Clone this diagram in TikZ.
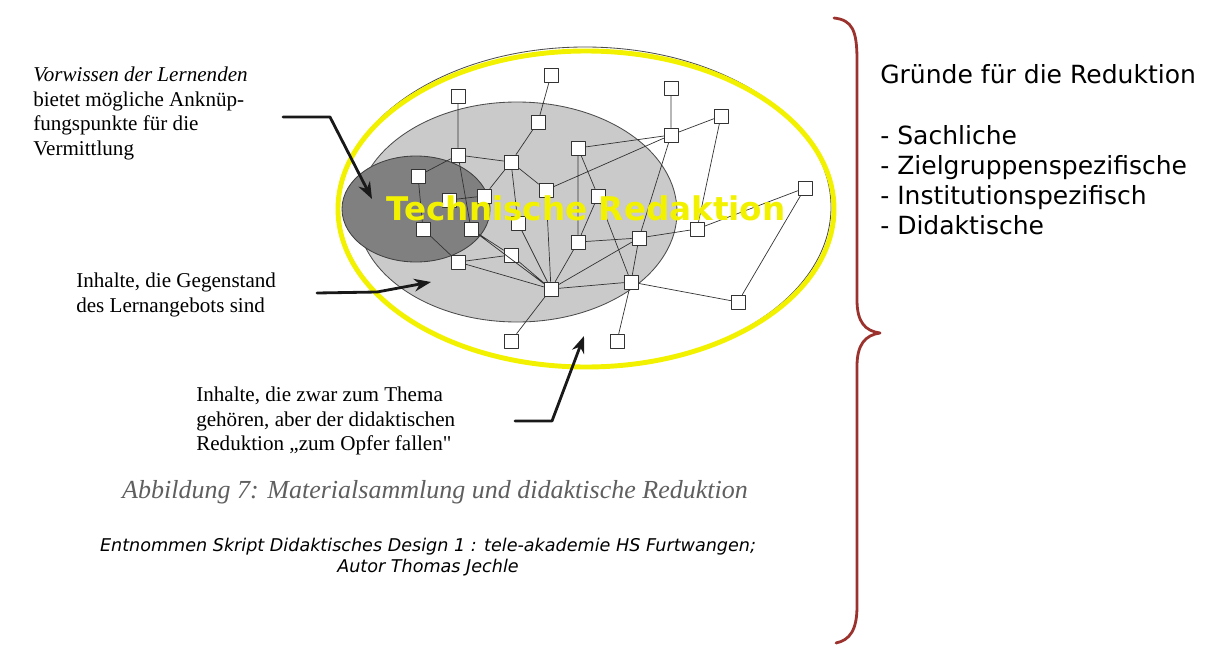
\documentclass[tikz,border=0pt]{standalone}
\usepackage{fontspec}
\setmainfont{Liberation Serif}
\newfontfamily\verafont{DejaVu Sans}
\usetikzlibrary{arrows.meta}
\definecolor{bracered}{RGB}{155,50,45}
\definecolor{markyellow}{RGB}{242,242,0}
\definecolor{topicgray}{RGB}{202,202,202}
\definecolor{priorgray}{RGB}{128,128,128}
\definecolor{captiongray}{RGB}{95,95,95}

\begin{document}
\begin{tikzpicture}[
    x=0.025cm, y=-0.025cm,
    >=Stealth,
    line cap=round,
    line join=round,
    item/.style={draw=black!80, fill=white, line width=0.5pt,
                 minimum size=10pt, inner sep=0pt},
    link/.style={black!80, line width=0.5pt},
    pointer/.style={->, line width=2pt, black!90},
    note/.style={font=\fontsize{15}{17.4}\selectfont, align=left,
                 inner sep=0pt, anchor=north west},
]

% ── Frame (pixel grid of the original slide) ────────────────────────────────
\useasboundingbox (0,0) rectangle (1220,644);

% ── Content areas ───────────────────────────────────────────────────────────
% topic area (light gray)
\filldraw[fill=topicgray, draw=black!70, line width=0.6pt]
    (517,212) ellipse [x radius=160, y radius=110];
% prior knowledge (dark gray)
\filldraw[fill=priorgray, draw=black!75, line width=0.6pt]
    (416,209) ellipse [x radius=74, y radius=53];
% whole material collection
\draw[black!70, line width=0.6pt] (585,207) ellipse [x radius=246, y radius=160];
\draw[markyellow, line width=3.5pt] (586,209) ellipse [x radius=248, y radius=158];

% ── Material items ──────────────────────────────────────────────────────────
\node[item] (a) at (551,75)  {};
\node[item] (b) at (458,96)  {};
\node[item] (c) at (671,88)  {};
\node[item] (d) at (721,116) {};
\node[item] (e) at (538,122) {};
\node[item] (f) at (671,135) {};
\node[item] (g) at (578,148) {};
\node[item] (h) at (458,155) {};
\node[item] (i) at (511,162) {};
\node[item] (j) at (418,176) {};
\node[item] (k) at (484,196) {};
\node[item] (l) at (546,190) {};
\node[item] (m) at (598,196) {};
\node[item] (n) at (449,200) {};
\node[item] (o) at (805,188) {};
\node[item] (p) at (423,229) {};
\node[item] (q) at (471,229) {};
\node[item] (r) at (518,223) {};
\node[item] (s) at (578,242) {};
\node[item] (t) at (639,238) {};
\node[item] (u) at (697,229) {};
\node[item] (v) at (458,262) {};
\node[item] (w) at (511,255) {};
\node[item] (xx) at (551,289) {};
\node[item] (y) at (631,282) {};
\node[item] (z) at (738,302) {};
\node[item] (A) at (511,341) {};
\node[item] (B) at (617,341) {};

% ── Links between items ─────────────────────────────────────────────────────
\draw[link] (a) -- (e)  (e) -- (i)  (b) -- (h)  (h) -- (i)  (h) -- (j)
            (h) -- (q)  (i) -- (k)  (n) -- (k)  (j) -- (p)  (p) -- (v);
\draw[link] (i) -- (l)  (i) -- (r)  (l) -- (f)  (g) -- (f)  (g) -- (s)
            (g) -- (m)  (m) -- (s)  (m) -- (y)  (l) -- (xx) (r) -- (xx);
\draw[link] (w) -- (xx) (q) -- (xx) (v) -- (xx) (v) -- (w)  (q) -- (w)
            (s) -- (xx) (t) -- (xx) (y) -- (xx) (xx) -- (A) (s) -- (t);
\draw[link] (t) -- (y)  (t) -- (f)  (y) -- (B)  (y) -- (z)  (z) -- (o)
            (u) -- (o)  (t) -- (u)  (u) -- (d)  (f) -- (d)  (f) -- (c);

% ── Pointers from the notes ─────────────────────────────────────────────────
\coordinate (p1s) at (283,117);
\coordinate (p1m) at (330,117);
\coordinate (p1e) at (372,199);
\draw[pointer] (p1s) -- (p1m) -- (p1e);

\coordinate (p2s) at (317,293);
\coordinate (p2m) at (377,292);
\coordinate (p2e) at (431,282);
\draw[pointer] (p2s) -- (p2m) -- (p2e);

\coordinate (p3s) at (515,421);
\coordinate (p3m) at (552,421);
\coordinate (p3e) at (584,336);
\draw[pointer] (p3s) -- (p3m) -- (p3e);

% ── Notes ───────────────────────────────────────────────────────────────────
\node[note] (prior) at (33,67)
    {\textit{Vorwissen der Lernenden}\\bietet mögliche Anknüp-\\fungspunkte für die\\Vermittlung};
\node[note] (topic) at (76,273)
    {Inhalte, die Gegenstand\\des Lernangebots sind};
\node[note] (cut) at (196,387)
    {Inhalte, die zwar zum Thema\\gehören, aber der didaktischen\\Reduktion „zum Opfer fallen\textquotedbl};

% ── Overlay title ───────────────────────────────────────────────────────────
\node[markyellow, font=\verafont\bfseries\fontsize{23.2}{27}\selectfont]
    (title) at (586,208) {Technische Redaktion};

% ── Caption and source ──────────────────────────────────────────────────────
\node[captiongray, font=\itshape\fontsize{18.5}{22}\selectfont]
    (caption) at (435,492) {Abbildung 7: Materialsammlung und didaktische Reduktion};
\node[align=center, font=\verafont\itshape\fontsize{12.5}{15}\selectfont]
    (source) at (428,557)
    {Entnommen Skript Didaktisches Design 1 : tele-akademie HS Furtwangen;\\Autor Thomas Jechle};

% ── Brace and reasons ───────────────────────────────────────────────────────
\draw[bracered, line width=2pt]
    (834,18) .. controls (852,20) and (857,30) .. (857,60)
    -- (857,300) .. controls (857,322) and (865,331) .. (880,333)
    .. controls (865,335) and (857,345) .. (857,366)
    -- (857,606) .. controls (857,630) and (850,640) .. (836,643);

\node[anchor=west, inner sep=0pt, font=\verafont\fontsize{17.8}{21}\selectfont]
    (why) at (880,74) {Gründe für die Reduktion};
\node[anchor=north west, align=left, inner sep=0pt,
      font=\verafont\fontsize{17.8}{21.3}\selectfont]
    (reasons) at (880,125)
    {- Sachliche\\- Zielgruppenspezifische\\- Institutionspezifisch\\- Didaktische};

\end{tikzpicture}
\end{document}
